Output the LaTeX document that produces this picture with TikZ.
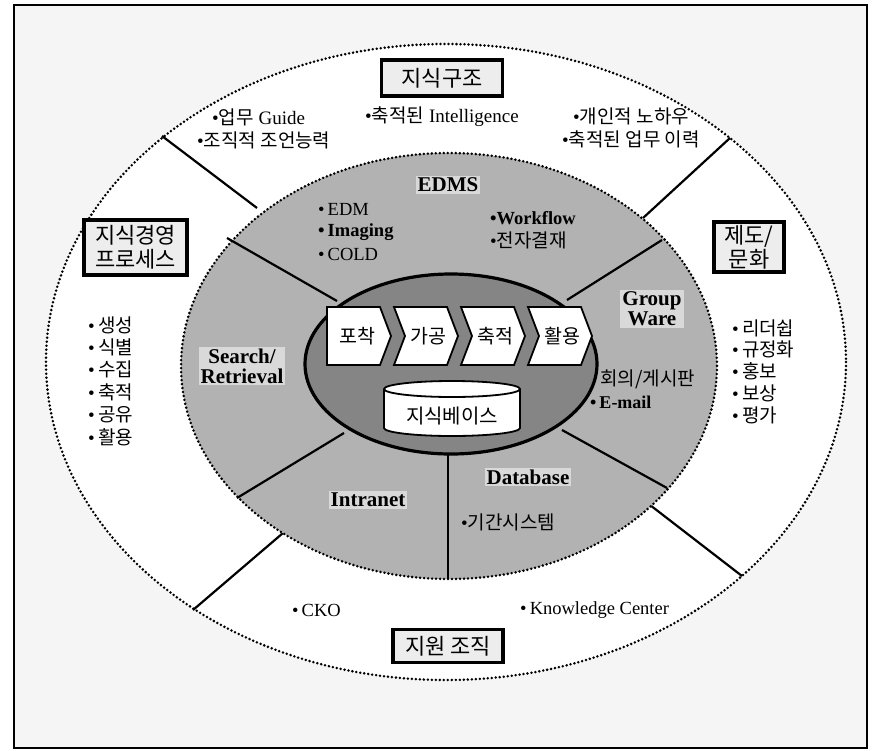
\documentclass[tikz,border=0pt]{standalone}
\usepackage{fontspec}
\setmainfont{Liberation Serif}
\newfontfamily\kr{Noto Sans CJK KR}
\usetikzlibrary{calc}
\begin{document}
\begin{tikzpicture}[x=1pt,y=-1pt,
  dotline/.style={line width=2.8pt, dash pattern=on 0pt off 4pt, line cap=round},
  divider/.style={line width=2.2pt},
  titlebox/.style={draw, line width=3.2pt, fill=black!7, inner sep=0pt, align=center,
    font=\kr\fontsize{22}{24}\selectfont},
  item/.style={anchor=west, inner sep=0pt, font=\fontsize{19}{21}\selectfont},
  kitem/.style={anchor=west, inner sep=0pt, font=\fontsize{19}{21}\selectfont},
  smallitem/.style={anchor=west, inner sep=0pt, font=\fontsize{18.5}{20}\selectfont},
  seg/.style={inner sep=2pt, fill=black!15, align=center, font=\bfseries\fontsize{21}{20}\selectfont},
  chev/.style={draw, line width=1.8pt, fill=white},
  chevtext/.style={inner sep=0pt, font=\kr\fontsize{19.5}{21}\selectfont}
]
\useasboundingbox (0,0) rectangle (878,750);
% frame
\draw[line width=2.2pt, fill=black!4] (14,5) rectangle (867,748);
% outer ellipse
\coordinate (Cout) at (446,362);
\fill[white] (Cout) ellipse [x radius=400, y radius=318];
\draw[dotline] (Cout) ellipse [x radius=400, y radius=318];
% outer dividers
\coordinate (ulo1) at (162,136); \coordinate (ulo2) at (257,208);
\coordinate (uro1) at (730,138); \coordinate (uro2) at (643,218);
\coordinate (llo1) at (193,610); \coordinate (llo2) at (283,533);
\coordinate (lro1) at (742,576); \coordinate (lro2) at (650,505);
\draw[divider] (ulo1) -- (ulo2);
\draw[divider] (uro1) -- (uro2);
\draw[divider] (llo1) -- (llo2);
\draw[divider] (lro1) -- (lro2);
% gray ellipse
\coordinate (Cmid) at (449,366);
\fill[black!30] (Cmid) ellipse [x radius=268, y radius=213];
\draw[dotline] (Cmid) ellipse [x radius=268, y radius=213];
% inner dividers
\coordinate (uli1) at (227,238); \coordinate (uli2) at (337,301);
\coordinate (uri1) at (662,240); \coordinate (uri2) at (567,300);
\coordinate (lli1) at (237,498); \coordinate (lli2) at (344,433);
\coordinate (lri1) at (667,488); \coordinate (lri2) at (562,430);
\coordinate (vt1) at (448,579); \coordinate (vt2) at (448,450);
\draw[divider] (uli1) -- (uli2);
\draw[divider] (uri1) -- (uri2);
\draw[divider] (lli1) -- (lli2);
\draw[divider] (lri1) -- (lri2);
\draw[divider] (vt1) -- (vt2);
% dark ellipse
\coordinate (Cin) at (451,364);
\fill[black!48] (Cin) ellipse [x radius=146, y radius=90];
\draw[line width=3.2pt] (Cin) ellipse [x radius=146, y radius=90];
% chevrons
\draw[chev] (327,307) -- (380,307) -- (391,336) -- (380,365) -- (327,365) -- cycle;
\foreach \L in {394,461,528}{
  \draw[chev] (\L,307) -- (\L+53,307) -- (\L+64,336) -- (\L+53,365) -- (\L,365) -- (\L+11,336) -- cycle;
}
\node[chevtext] (c1) at (357,336) {포착};
\node[chevtext] (c2) at (428,336) {가공};
\node[chevtext] (c3) at (495,336) {축적};
\node[chevtext] (c4) at (562,336) {활용};
% cylinder
\draw[line width=1.8pt, fill=white] (384,389) -- (384,428)
   arc[start angle=180, end angle=0, x radius=68, y radius=8] -- (520,389)
   arc[start angle=0, end angle=-180, x radius=68, y radius=8] -- cycle;
\draw[line width=1.8pt] (384,389) arc[start angle=180, end angle=0, x radius=68, y radius=8];
\node[chevtext, font=\kr\fontsize{20}{21}\selectfont] (kb) at (452,416) {지식베이스};
% gray ring labels
\node[seg] (edms) at (448,185) {EDMS};
\node[smallitem] (edm) at (318,209) {•\,EDM};
\node[smallitem, font=\bfseries\fontsize{18.5}{20}\selectfont] (img) at (318,232) {•\,Imaging};
\node[smallitem] (cold) at (318,254) {•\,COLD};
\node[smallitem, font=\bfseries\fontsize{18.5}{20}\selectfont] (wf) at (490,218) {•Workflow};
\node[kitem] (ejg) at (490,240) {•{\kr 전자결재}};
\node[seg] (gw) at (652,309) {Group\\Ware};
\node[kitem] (hoe) at (600,379) {\kr 회의/게시판};
\node[smallitem, font=\bfseries\fontsize{18}{20}\selectfont] (em) at (590,402) {•\,E-mail};
\node[seg] (sr) at (242,366) {Search/\\Retrieval};
\node[seg] (intra) at (368,500) {Intranet};
\node[seg] (db) at (528,477) {Database};
\node[kitem] (gigan) at (461,522) {•{\kr 기간시스템}};
% outer ring texts
\node[titlebox, minimum width=121, minimum height=36] (top) at (442,78) {지식구조};
\node[item] (t1) at (212,117) {•{\kr 업무} Guide};
\node[item] (t2) at (365,117) {•{\kr 축적된} Intelligence};
\node[kitem] (t3) at (573,116) {•{\kr 개인적 노하우}};
\node[kitem] (t4) at (197,140) {•{\kr 조직적 조언능력}};
\node[kitem] (t5) at (562,139) {•{\kr 축적된 업무 이력}};
\node[titlebox, minimum width=103, minimum height=55] (left) at (135.5,247.5) {지식경영\\프로세스};
\foreach \t [count=\i] in {생성,식별,수집,축적,공유,활용}{
  \node[kitem] (l\i) at (88,{325+22.4*(\i-1)}) {•\,{\kr \t}};
}
\node[titlebox, minimum width=70, minimum height=50] (right) at (749,247) {제도/\\문화};
\foreach \t [count=\i] in {리더쉽,규정화,홍보,보상,평가}{
  \node[kitem] (r\i) at (732,{328+21.8*(\i-1)}) {•\,{\kr \t}};
}
\node[smallitem] (cko) at (292,610) {•\,CKO};
\node[smallitem] (kc) at (520,610) {•\,Knowledge Center};
\node[titlebox, minimum width=110, minimum height=33] (bot) at (448,646) {지원 조직};
\end{tikzpicture}
\end{document}
